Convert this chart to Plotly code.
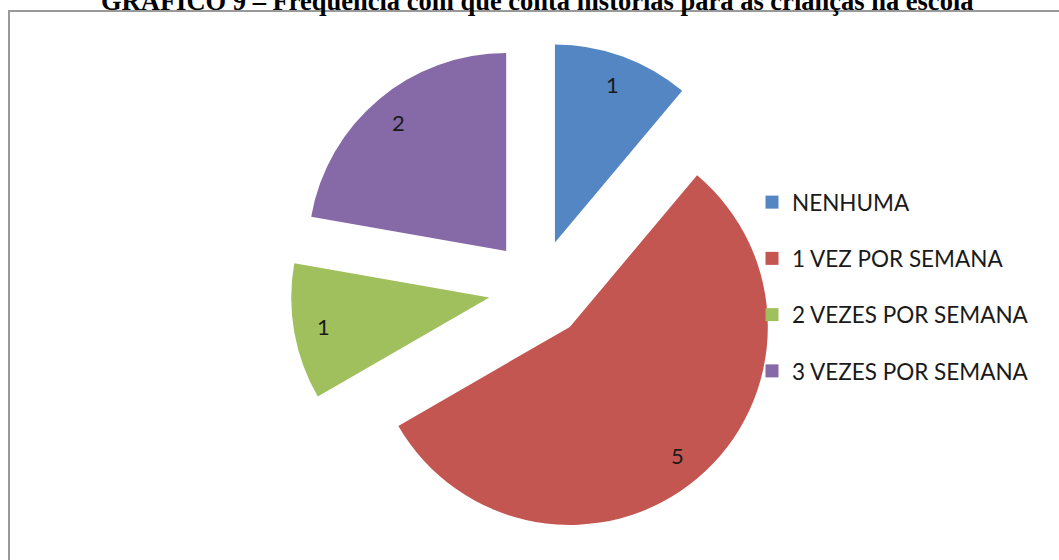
import math
import plotly.graph_objects as go

# ---- data ----
categories = ["NENHUMA", "1 VEZ POR SEMANA", "2 VEZES POR SEMANA", "3 VEZES POR SEMANA"]
values = [1, 5, 1, 2]
colors = ["#5386C2", "#C45652", "#A0BF5D", "#8669A7"]
title_text = "GRÁFICO 9 – Frequência com que conta histórias para as crianças na escola"

# ---- layout constants ----
W, H = 1059, 560
PULL = 0.25
CX, CY, R = 538, 289, 198          # pie centre / radius in px
LABEL_FRAC = 0.85
FONT = "Lato"

half = R * (1 + PULL)
dom_x = [(CX - half) / W, (CX + half) / W]
dom_y = [1 - (CY + half) / H, 1 - (CY - half) / H]

fig = go.Figure()
fig.add_trace(go.Pie(
    labels=categories, values=values, sort=False, direction="clockwise",
    rotation=0, pull=[PULL] * len(values),
    marker=dict(colors=colors, line=dict(width=0)),
    textinfo="none", showlegend=False, hoverinfo="label+value",
    domain=dict(x=dom_x, y=dom_y),
))

# legend entries (one group each so the group gap spaces them)
for name, col in zip(categories, colors):
    fig.add_trace(go.Scatter(
        x=[None], y=[None], mode="markers", name=name, legendgroup=name,
        marker=dict(symbol="square", size=13, color=col),
    ))

# value labels placed along each slice's mid angle
annotations = []
total = sum(values)
cum = 0
for v in values:
    theta = math.radians((cum + v / 2) / total * 360)
    cum += v
    dx, dy = math.sin(theta), -math.cos(theta)
    px = CX + (PULL + LABEL_FRAC) * R * dx
    py = CY + (PULL + LABEL_FRAC) * R * dy
    annotations.append(dict(
        x=px / W, y=1 - py / H, xref="paper", yref="paper", text=str(v),
        showarrow=False, xanchor="center", yanchor="middle",
        font=dict(family=FONT, size=22, color="#1a1a1a"),
    ))

annotations.append(dict(
    x=537 / W, y=1 - 18 / H, xref="paper", yref="paper", text="<b>" + title_text + "</b>",
    showarrow=False, xanchor="center", yanchor="bottom",
    font=dict(family="Liberation Serif", size=26.5, color="#000000"),
))

fig.update_layout(
    width=W, height=H, margin=dict(l=0, r=0, t=0, b=0),
    paper_bgcolor="white", plot_bgcolor="white",
    xaxis=dict(visible=False), yaxis=dict(visible=False),
    showlegend=True,
    legend=dict(x=752 / W, y=1 - 181 / H, xanchor="left", yanchor="top",
                font=dict(family=FONT, size=22.5, color="#1a1a1a"),
                tracegroupgap=24, bgcolor="rgba(0,0,0,0)"),
    annotations=annotations,
    shapes=[dict(type="rect", xref="paper", yref="paper",
                 x0=9 / W, y0=1 - 11 / H, x1=1.05, y1=-0.05,
                 line=dict(color="#999999", width=2), fillcolor="rgba(0,0,0,0)")],
)

fig.write_html("out.html")
